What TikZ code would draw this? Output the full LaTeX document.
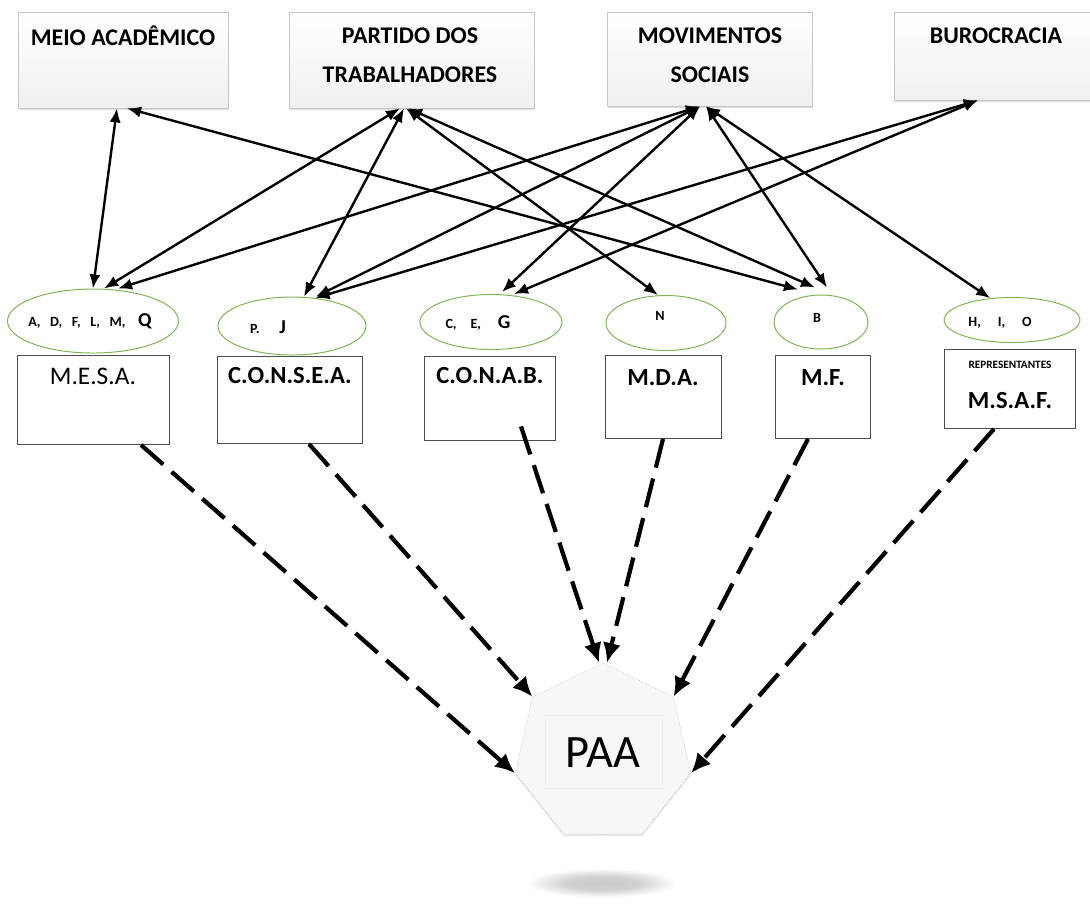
\documentclass[tikz,border=0pt]{standalone}
\usepackage{fontspec}
\setmainfont{Carlito}
\usetikzlibrary{arrows.meta,shapes.geometric,shadows}
\definecolor{grpgreen}{RGB}{125,180,85}
\pgfdeclareradialshading{paashadow}{\pgfpoint{0bp}{0bp}}{color(0bp)=(gray!42); color(12bp)=(gray!36); color(25bp)=(white); color(50bp)=(white)}
\newcommand{\letra}[1]{{\fontsize{14}{16}\selectfont #1}}
\begin{document}
\begin{tikzpicture}[x=.025cm, y=-.025cm, >={Latex[length=10pt,width=8pt]},
	topbox/.style={draw=gray!45, top color=white, bottom color=gray!12, minimum height=2.4cm, drop shadow={opacity=.25,shadow xshift=.6pt,shadow yshift=-1.2pt}},
	toptext/.style={font=\fontsize{17}{27.7}\selectfont\bfseries, align=center},
	grp/.style={ellipse, draw=grpgreen, line width=.7pt},
	grptext/.style={font=\fontsize{10}{11}\selectfont\bfseries},
	org/.style={draw=black!70, line width=.6pt, fill=white},
	orgtext/.style={font=\fontsize{17.5}{20}\selectfont\bfseries},
	link/.style={<->, line width=1.7pt},
	flow/.style={-{Latex[length=14pt,width=13pt]}, line width=3pt, dash pattern=on 21pt off 8pt}]
	\useasboundingbox (0,0) rectangle (1090,904);
	% instancias
	\node[topbox, minimum width=5.25cm] (meio) at (123,60) {};
	\node[topbox, minimum width=6.125cm] (partido) at (412,60) {};
	\node[topbox, minimum width=5.125cm, minimum height=2.35cm] (movimentos) at (710,59) {};
	\node[topbox, minimum width=4.95cm, minimum height=2.2cm] (burocracia) at (993,56) {};
	\node[toptext] (meiotxt) at (123,36) {MEIO ACADÊMICO};
	\node[toptext] (partidotxt) at (410,55) {PARTIDO DOS\\TRABALHADORES};
	\node[toptext] (movimentostxt) at (710,55) {MOVIMENTOS\\SOCIAIS};
	\node[toptext] (burocraciatxt) at (996,36) {BUROCRACIA};
	% grupos
	\node[grp, minimum width=4.275cm, minimum height=1.6cm] (gmesa) at (93,321) {};
	\node[grp, minimum width=3.7cm, minimum height=1.45cm] (gconsea) at (292,326) {};
	\node[grp, minimum width=3.55cm, minimum height=1.375cm] (gconab) at (491,322) {};
	\node[grp, minimum width=3cm, minimum height=1.375cm] (gmda) at (666,323) {};
	\node[grp, minimum width=2.35cm, minimum height=1.35cm] (gmf) at (821,322) {};
	\node[grp, minimum width=3.4cm, minimum height=1.125cm] (gmsaf) at (1012,320) {};
	\node[grptext] (gmesatxt) at (90,321) {A,~~~D,~~~F,~~~L,~~~M,~~~~\letra{Q}};
	\node[grptext] (gconseatxt) at (268,327) {P.\hspace{1.4em}\letra{J}};
	\node[grptext] (gconabtxt) at (478,323) {C,\hspace{1em}E,\hspace{1.2em}\letra{G}};
	\node[grptext] (gmdatxt) at (660,316) {N};
	\node[grptext] (gmftxt) at (817,318) {B};
	\node[grptext] (gmsaftxt) at (1000,323) {H,\hspace{1.2em}I,\hspace{1.2em}O};
	% orgaos
	\node[org, minimum width=3.8cm, minimum height=2.225cm] (mesa) at (93,400) {};
	\node[org, minimum width=3.625cm, minimum height=2.175cm] (consea) at (290,400) {};
	\node[org, minimum width=3.275cm, minimum height=2.1cm] (conab) at (490,398) {};
	\node[org, minimum width=2.9cm, minimum height=2.075cm] (mda) at (663,397) {};
	\node[org, minimum width=2.375cm, minimum height=2.075cm] (mf) at (823,397) {};
	\node[org, minimum width=3.275cm, minimum height=1.975cm] (msaf) at (1010,389) {};
	\node[orgtext, font=\fontsize{18}{20}\selectfont] (mesatxt) at (93,376) {M.E.S.A.};
	\node[orgtext] (conseatxt) at (290,376) {C.O.N.S.E.A.};
	\node[orgtext] (conabtxt) at (490,376) {C.O.N.A.B.};
	\node[orgtext] (mdatxt) at (663,378) {M.D.A.};
	\node[orgtext] (mftxt) at (823,378) {M.F.};
	\node[orgtext, font=\fontsize{8}{9}\selectfont\bfseries] (reprtxt) at (1010,365) {REPRESENTANTES};
	\node[orgtext] (msaftxt) at (1010,401) {M.S.A.F.};
	% programa
	\node[regular polygon, regular polygon sides=7, minimum size=4.5cm, draw=gray!60, densely dotted, fill=gray!6,
		drop shadow={opacity=.2,shadow xshift=0pt,shadow yshift=-1.5pt}] (paa) at (603,753) {};
	\draw[gray!15] (545,715) rectangle (662,788);
	\node[font=\fontsize{33}{36}\selectfont] (paatxt) at (paa) {PAA};
	\shade[shading=paashadow] (602,883) ellipse [x radius=1.9cm, y radius=.36cm];
	% relacoes
	\draw[link] ([xshift=-.15cm]meio.south) -- (gmesa.north);
	\draw[link] ([xshift=.1cm]meio.south) -- ([xshift=-.575cm,yshift=.125cm]gmf.north);
	\draw[link] ([xshift=-.3cm]partido.south) -- ([xshift=.275cm]gmesa.north);
	\draw[link] ([xshift=-.2cm]partido.south) -- ([xshift=.3cm]gconsea.north);
	\draw[link] ([xshift=-.15cm]partido.south) -- ([xshift=-.2cm]gmda.north);
	\draw[link] ([xshift=-.1cm]partido.south) -- ([xshift=-.15cm,yshift=.175cm]gmf.north);
	\draw[link] ([xshift=-.25cm]movimentos.south) -- ([xshift=.625cm]gmesa.north);
	\draw[link] ([xshift=-.25cm]movimentos.south) -- ([xshift=.6cm]gconsea.north);
	\draw[link] ([xshift=-.25cm]movimentos.south) -- ([xshift=.275cm,yshift=.05cm]gconab.north);
	\draw[link] ([xshift=-.1cm]movimentos.south) -- ([xshift=.15cm,yshift=.175cm]gmf.north);
	\draw[link] ([xshift=-.1cm]movimentos.south) -- (gmsaf.135);
	\draw[link] ([xshift=-.375cm]burocracia.south) -- (gconsea.50);
	\draw[link] ([xshift=-.375cm]burocracia.south) -- ([xshift=.575cm]gconab.north);
	% fluxos
	\draw[flow] ([xshift=1.2cm]mesa.south) -- (paa.corner 3);
	\draw[flow] ([xshift=.475cm]consea.south) -- (paa.corner 2);
	\draw[flow] ([xshift=.775cm,yshift=.35cm]conab.south) -- ([xshift=-.1cm]paa.corner 1);
	\draw[flow] (mda.south) -- ([xshift=.1cm]paa.corner 1);
	\draw[flow] ([xshift=-.375cm]mf.south) -- (paa.corner 7);
	\draw[flow] ([xshift=-.4cm]msaf.south) -- (paa.corner 6);
\end{tikzpicture}
\end{document}
